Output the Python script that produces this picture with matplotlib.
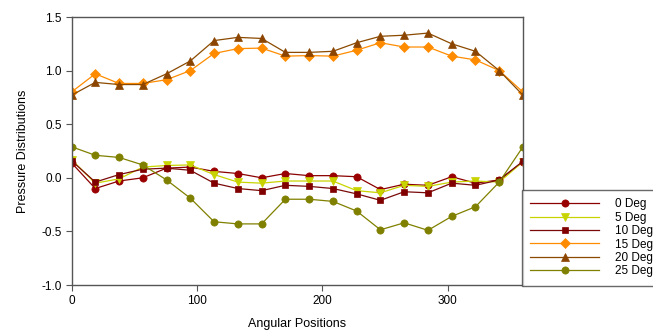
import numpy as np
import matplotlib
matplotlib.use("Agg")
import matplotlib.pyplot as plt

plt.rcParams['font.family'] = ['Liberation Sans', 'DejaVu Sans']

angles = [i * 360 / 19 for i in range(20)]

deg0 = [0.14, -0.10, -0.03, 0.00, 0.09, 0.10, 0.06, 0.04, 0.00, 0.04, 0.02, 0.02, 0.01, -0.11, -0.06, -0.07, 0.01, -0.05, -0.02, 0.15]
deg5 = [0.17, -0.05, -0.01, 0.10, 0.115, 0.12, 0.03, -0.04, -0.05, -0.03, -0.03, -0.03, -0.12, -0.14, -0.07, -0.08, -0.04, -0.03, -0.04, 0.15]
deg10 = [0.16, -0.04, 0.03, 0.08, 0.09, 0.07, -0.05, -0.10, -0.12, -0.07, -0.08, -0.10, -0.15, -0.21, -0.13, -0.14, -0.05, -0.07, -0.02, 0.155]
deg15 = [0.80, 0.97, 0.88, 0.88, 0.915, 1.00, 1.16, 1.205, 1.21, 1.135, 1.14, 1.135, 1.19, 1.26, 1.22, 1.22, 1.135, 1.10, 1.00, 0.80]
deg20 = [0.77, 0.89, 0.87, 0.87, 0.97, 1.09, 1.28, 1.31, 1.30, 1.17, 1.17, 1.18, 1.26, 1.32, 1.33, 1.35, 1.25, 1.18, 1.00, 0.77]
deg25 = [0.29, 0.21, 0.19, 0.12, -0.02, -0.19, -0.41, -0.43, -0.43, -0.20, -0.20, -0.22, -0.31, -0.485, -0.42, -0.49, -0.36, -0.27, -0.04, 0.29]

labels = ["0 Deg", "5 Deg", "10 Deg", "15 Deg", "20 Deg", "25 Deg"]
xticks = [0, 100, 200, 300]
yticks = [-1.0, -0.5, 0.0, 0.5, 1.0, 1.5]

series = [deg0, deg5, deg10, deg15, deg20, deg25]
colors = ["#8B0000", "#C8D400", "#7A0A0A", "#FF8C00", "#8B4A00", "#808000"]
face = ["#990000", "#C8D400", "#800000", "#FF8C00", "#8B4500", "#808000"]
markers = ["o", "v", "s", "D", "^", "o"]
msizes = [5.2, 5.6, 5.0, 5.0, 5.6, 5.2]

fig = plt.figure(figsize=(6.53, 3.31), dpi=100)
ax = fig.add_axes([71.5/653, 1-285/331, (523-71.5)/653, (285-17)/331])

for ys, c, fc, m, ms, lab in zip(series, colors, face, markers, msizes, labels):
    ax.plot(angles, ys, color=c, lw=0.9, marker=m, markersize=ms,
            markerfacecolor=fc, markeredgecolor=fc, markeredgewidth=0.5, label=lab)

ax.set_xlim(0, 360)
ax.set_ylim(-1.0, 1.5)
ax.set_xticks(xticks)
ax.set_yticks(yticks)
ax.set_yticklabels(["-1.0", "-0.5", "0.0", "0.5", "1.0", "1.5"])
for s in ax.spines.values():
    s.set_color("#555555")
    s.set_linewidth(1.0)
ax.tick_params(direction="out", length=4, width=0.8, color="#555555", labelsize=8.5, pad=3)
ax.set_xlabel("Angular Positions", fontsize=9, labelpad=8)
ax.set_ylabel("Pressure Distributions", fontsize=9, labelpad=9)

leg = fig.legend(loc="upper left", bbox_to_anchor=(522/653, 1-190/331),
                 bbox_transform=fig.transFigure, borderaxespad=0,
                 fontsize=8.5, handlelength=5.8, handletextpad=1.4,
                 labelspacing=0.12, borderpad=0.7, fancybox=False,
                 frameon=True, edgecolor="#444444")
leg.get_frame().set_linewidth(1.0)

fig.savefig("out.png", dpi=100)
